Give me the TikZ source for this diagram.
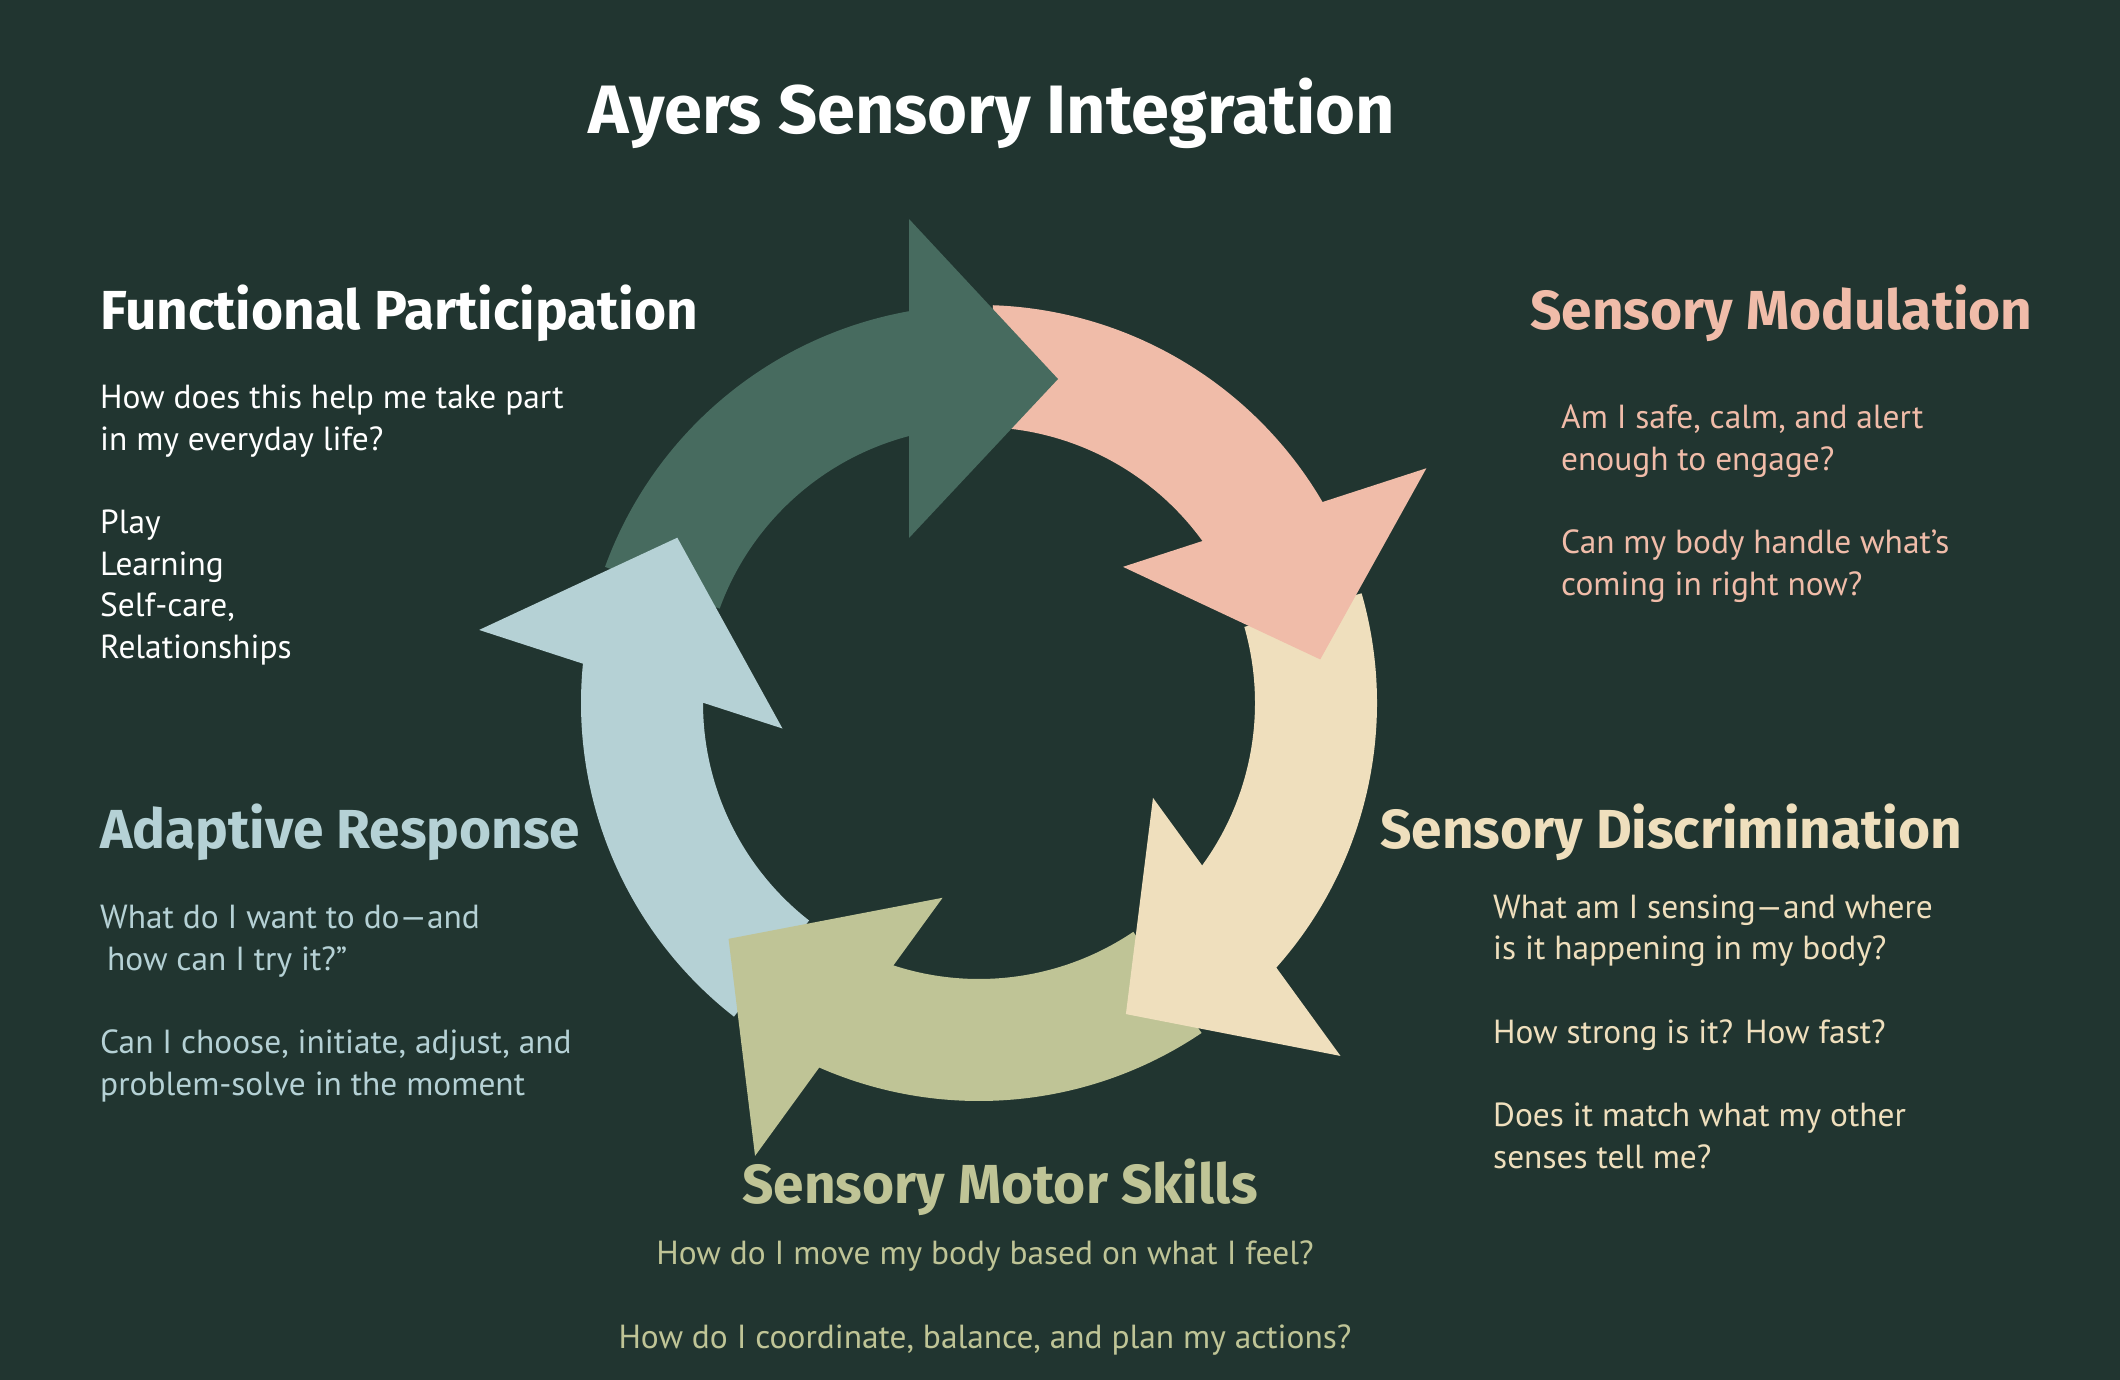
\documentclass[tikz,border=0pt]{standalone}
\usepackage{fontspec}
\setmainfont{PT Sans}
\newfontfamily\headfont{Fira Sans}
\usepackage{tikz}
\usetikzlibrary{positioning}

\definecolor{bgdark}{HTML}{213530}
\definecolor{fpgreen}{HTML}{476B5F}
\definecolor{smpink}{HTML}{F0BCA9}
\definecolor{sdcream}{HTML}{EFDFBD}
\definecolor{skolive}{HTML}{BFC496}
\definecolor{arblue}{HTML}{B5D1D5}

\begin{document}
\begin{tikzpicture}[
  x=1pt, y=1pt,
  headline/.style={inner sep=0pt, anchor=base west, font=\headfont\bfseries\fontsize{55}{64}\selectfont},
  bodytext/.style={inner sep=0pt, anchor=base west, align=left, font=\fontsize{33.4}{41.5}\selectfont},
  titletext/.style={inner sep=0pt, anchor=base, font=\headfont\bfseries\fontsize{68.5}{80}\selectfont, text=white}
]
\fill[bgdark] (0,0) rectangle (2120,-1380);
\useasboundingbox (0,0) rectangle (2120,-1380);

\node[titletext] (title) at (992,-134) {Ayers Sensory Integration};

% ring of five arrows, bands first, heads on top
\begin{scope}[shift={(979,-703)}]
  \foreach \k/\col in {0/fpgreen,1/smpink,2/sdcream,3/skolive,4/arblue}{
    \begin{scope}[rotate=-72*\k]
      \fill[\col] (160:398) arc[start angle=160, end angle=100.1, radius=398]
        -- (104.7:276) arc[start angle=104.7, end angle=160, radius=276] -- cycle;
    \end{scope}
  }
  \foreach \k/\col/\dx/\dy in {0/fpgreen/15/-14,1/smpink/0/0,2/sdcream/0/0,3/skolive/0/0,4/arblue/0/0}{
    \begin{scope}[rotate=-72*\k, shift={(\dx,\dy)}]
      \fill[\col] (-85,179) -- (-85,498) -- (64,338) -- cycle;
    \end{scope}
  }
\end{scope}

% functional participation
\node[headline, text=white] (fphead) at (100,-330) {Functional Participation};
\node[bodytext, text=white, below=328pt of fphead.base west, anchor=base west] (fpbody)
  {How does this help me take part\\in my everyday life?\\[42pt]Play\\Learning\\Self-care,\\Relationships};

% sensory modulation
\node[headline, text=smpink] (smhead) at (1530,-330) {Sensory Modulation};
\node[bodytext, text=smpink, below right=265pt and 31pt of smhead.base west, anchor=base west] (smbody)
  {Am I safe, calm, and alert\\enough to engage?\\[42pt]Can my body handle what’s\\coming in right now?};

% adaptive response
\node[headline, text=arblue] (arhead) at (100,-848) {Adaptive Response};
\node[bodytext, text=arblue, below=247pt of arhead.base west, anchor=base west] (arbody)
  {What do I want to do—and\\\hspace*{7pt}how can I try it?”\\[42pt]Can I choose, initiate, adjust, and\\problem-solve in the moment};

% sensory discrimination
\node[headline, text=sdcream] (sdhead) at (1380,-848) {Sensory Discrimination};
\node[bodytext, text=sdcream, below right=320pt and 113pt of sdhead.base west, anchor=base west] (sdbody)
  {What am I sensing—and where\\is it happening in my body?\\[42pt]How strong is it? How fast?\\[42pt]Does it match what my other\\senses tell me?};

% sensory motor skills
\node[headline, text=skolive, anchor=base] (skhead) at (1000,-1203) {Sensory Motor Skills};
\node[bodytext, text=skolive, align=center, below left=145pt and 15pt of skhead.base, anchor=base] (skbody)
  {How do I move my body based on what I feel?\\[42pt]How do I coordinate, balance, and plan my actions?};
\end{tikzpicture}
\end{document}
